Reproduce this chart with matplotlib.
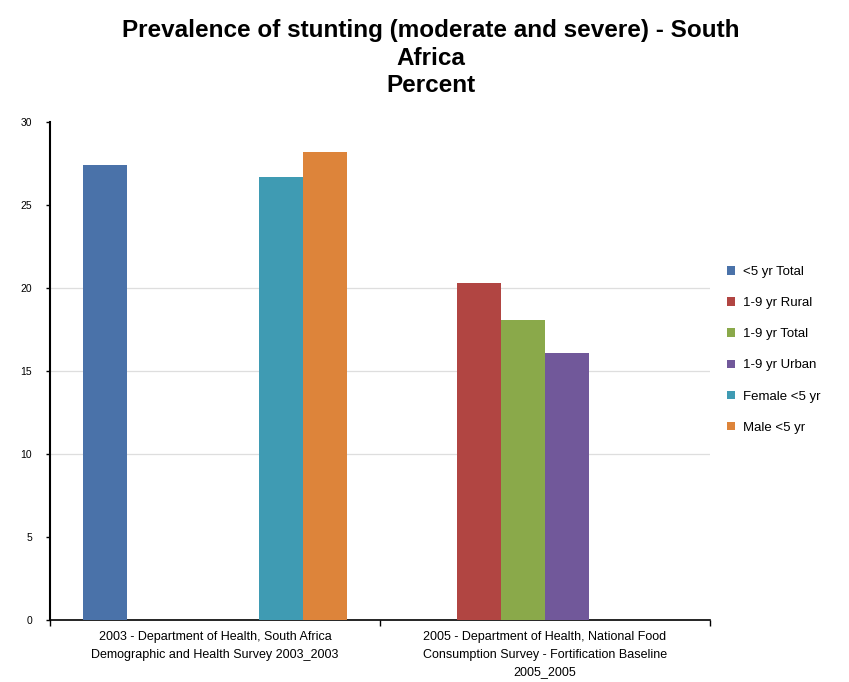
import matplotlib.pyplot as plt
import numpy as np

plt.rcParams["font.family"] = ["Liberation Sans", "DejaVu Sans"]

categories = [
    "2003 - Department of Health, South Africa\nDemographic and Health Survey 2003_2003",
    "2005 - Department of Health, National Food\nConsumption Survey - Fortification Baseline\n2005_2005",
]
series_names = [
    "<5 yr Total",
    "1-9 yr Rural",
    "1-9 yr Total",
    "1-9 yr Urban",
    "Female <5 yr",
    "Male <5 yr",
]
# one row per series, one column per survey (nan = not reported)
values = [
    [27.4, np.nan],
    [np.nan, 20.3],
    [np.nan, 18.1],
    [np.nan, 16.1],
    [26.7, np.nan],
    [28.2, np.nan],
]
colors = ["#4a72a9", "#b14542", "#8aa94a", "#71589a", "#3f9bb3", "#dd843a"]

fig = plt.figure(figsize=(8.49, 6.82), dpi=100)
ax = fig.add_axes([0.0589, 0.0909, 0.777, 0.730])

x = np.arange(len(categories))
n = len(series_names)
width = 1.0 / (n + 1.5)
for i, (name, vals) in enumerate(zip(series_names, values)):
    ax.bar(x + (i - (n - 1) / 2) * width, vals, width, color=colors[i], label=name, zorder=3)

for level in [10, 15, 20]:
    ax.axhline(level, color="#dedede", linewidth=0.9, zorder=1)

ax.set_xlim(-0.5, len(categories) - 0.5)
ax.set_ylim(0, 30)
ax.set_yticks(np.arange(0, 31, 5))
ax.tick_params(axis="y", labelsize=7.5, direction="out", length=3, width=1, color="black", pad=10)

ax.set_xticks([-0.5, 0.5, 1.5])
ax.set_xticklabels([])
ax.tick_params(axis="x", which="major", length=4, width=1, direction="out")
ax.set_xticks(x, minor=True)
ax.set_xticklabels(categories, minor=True, fontsize=9, linespacing=1.6)
ax.tick_params(axis="x", which="minor", length=0, pad=8)

for side in ["top", "right"]:
    ax.spines[side].set_visible(False)
ax.spines["left"].set_linewidth(1.5)
ax.spines["bottom"].set_linewidth(1.2)

fig.suptitle(
    "Prevalence of stunting (moderate and severe) - South\nAfrica\nPercent",
    x=0.507, y=0.972, fontsize=17.5, fontweight="bold", linespacing=1.25,
)

ax.legend(
    loc="center left", bbox_to_anchor=(0.842, 0.487), bbox_transform=fig.transFigure,
    frameon=False, fontsize=9.5, handlelength=0.6, handleheight=0.6,
    handletextpad=0.6, labelspacing=1.45,
)

fig.savefig("out.png", dpi=100)
